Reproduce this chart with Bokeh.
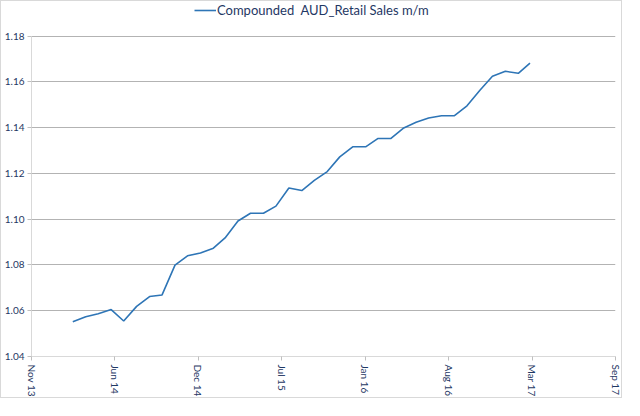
import pandas as pd
from bokeh.plotting import figure
from bokeh.models import (Range1d, FixedTicker, DatetimeTickFormatter, NumeralTickFormatter,
                          Legend, LegendItem, ColumnDataSource)
from bokeh.embed import file_html
from bokeh.resources import INLINE

# ---- data ----
months = ["2014-03", "2014-04", "2014-05", "2014-06", "2014-07", "2014-08", "2014-09",
          "2014-10", "2014-11", "2014-12", "2015-01", "2015-02", "2015-03", "2015-04",
          "2015-05", "2015-06", "2015-07", "2015-08", "2015-09", "2015-10", "2015-11",
          "2015-12", "2016-01", "2016-02", "2016-03", "2016-04", "2016-05", "2016-06",
          "2016-07", "2016-08", "2016-09", "2016-10", "2016-11", "2016-12", "2017-01",
          "2017-02", "2017-03"]
values = [1.0552, 1.0574, 1.0587, 1.0605, 1.0555, 1.0619, 1.0662,
          1.0669, 1.0799, 1.0840, 1.0852, 1.0873, 1.0918, 1.0992,
          1.1026, 1.1026, 1.1057, 1.1136, 1.1125, 1.1169, 1.1208,
          1.1272, 1.1316, 1.1316, 1.1352, 1.1352, 1.1397, 1.1423,
          1.1442, 1.1452, 1.1452, 1.1495, 1.1563, 1.1624, 1.1646,
          1.1637, 1.1682]
series_name = "Compounded  AUD_Retail Sales m/m"

tick_dates = ["2013-11-22", "2014-06-10", "2014-12-27", "2015-07-15",
              "2016-01-31", "2016-08-18", "2017-03-06", "2017-09-22"]
tick_labels = ["Nov 13", "Jun 14", "Dec 14", "Jul 15", "Jan 16", "Aug 16", "Mar 17", "Sep 17"]
y_ticks = [1.04, 1.06, 1.08, 1.10, 1.12, 1.14, 1.16, 1.18]

# ---- build ----
def to_ms(ts):
    return int((pd.Timestamp(ts) - pd.Timestamp("1970-01-01")) // pd.Timedelta("1ms"))

x_dates = pd.to_datetime([m + "-01" for m in months])
src = ColumnDataSource(dict(x=x_dates, y=values))
tick_ms = [to_ms(d) for d in tick_dates]

TXT = "#1F3864"
W, H = 622, 398
TOP, BOT = 0, 38
HEADROOM = 35                   # pixels above the 1.18 line, used by the legend
frame_h = H - TOP - BOT
axis_px = frame_h - HEADROOM
y_top = y_ticks[0] + (y_ticks[-1] - y_ticks[0]) * frame_h / axis_px

p = figure(width=W, height=H, x_axis_type="datetime",
           output_backend="svg", toolbar_location=None,
           x_range=Range1d(tick_ms[0], tick_ms[-1]), y_range=Range1d(y_ticks[0], y_top),
           min_border_left=28, min_border_right=8, min_border_top=TOP, min_border_bottom=BOT)
p.styles = {"border": "1px solid #D9D9D9"}
p.outline_line_color = None
p.background_fill_color = "white"
p.border_fill_color = "white"

r = p.line("x", "y", source=src, line_color="#2E75B6", line_width=1.6)

# y axis
p.yaxis.ticker = FixedTicker(ticks=y_ticks)
p.yaxis.bounds = (y_ticks[0], y_ticks[-1])
p.yaxis.formatter = NumeralTickFormatter(format="0.00")
p.yaxis.axis_line_color = "#D9D9D9"
p.yaxis.major_tick_line_color = "#BFBFBF"
p.yaxis.major_tick_out = 4
p.yaxis.major_tick_in = 0
p.yaxis.minor_tick_line_color = None
p.yaxis.major_label_standoff = 3

# x axis
p.xaxis.ticker = FixedTicker(ticks=tick_ms)
p.xaxis.formatter = DatetimeTickFormatter(days="%b %y", months="%b %y", years="%b %y")
p.xaxis.major_label_overrides = {t: l for t, l in zip(tick_ms, tick_labels)}
p.xaxis.major_label_orientation = "vertical"
p.xaxis.axis_line_color = "#D9D9D9"
p.xaxis.major_tick_line_color = "#BFBFBF"
p.xaxis.major_tick_out = 4
p.xaxis.major_tick_in = 0
p.xaxis.minor_tick_line_color = None
p.xaxis.major_label_standoff = 4

for ax in (p.xaxis, p.yaxis):
    ax.major_label_text_color = TXT
    ax.major_label_text_font = "Lato"
    ax.major_label_text_font_size = "10px"

p.xgrid.grid_line_color = None
p.ygrid.ticker = FixedTicker(ticks=y_ticks)
p.ygrid.grid_line_color = "#B3B3B3"
p.ygrid.grid_line_width = 1

legend = Legend(items=[LegendItem(label=series_name, renderers=[r])],
                location=(163, frame_h - 22), orientation="horizontal",
                label_text_color=TXT, label_text_font="Lato", label_text_font_size="13px",
                glyph_width=22, glyph_height=10, label_standoff=1,
                padding=2, margin=0, spacing=0,
                border_line_color=None, background_fill_alpha=0)
p.add_layout(legend)

open("out.html", "w").write(file_html(p, INLINE))
